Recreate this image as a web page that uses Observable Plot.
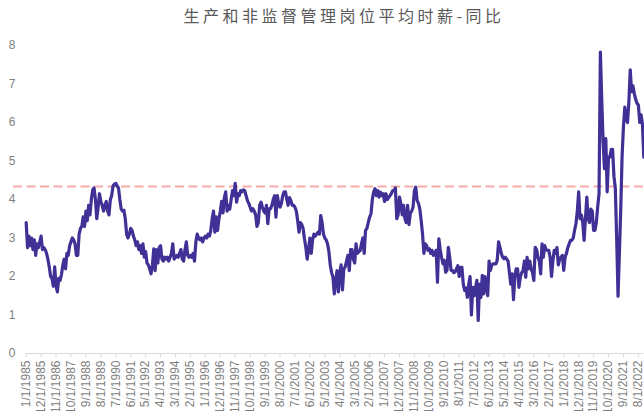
<!DOCTYPE html>
<html>
<head>
<meta charset="utf-8">
<script src="https://cdn.jsdelivr.net/npm/d3@7"></script>
<script src="https://cdn.jsdelivr.net/npm/@observablehq/plot@0.6"></script>
<style>
  html, body { margin: 0; padding: 0; background: #fff; width: 644px; height: 411px; overflow: hidden; }
  #title { height: 30px; line-height: 30px; width: 644px; text-align: center; box-sizing: border-box; padding-left: 44px;
           font-family: "Noto Sans CJK SC", sans-serif; font-size: 16px; letter-spacing: 3.5px; color: #595959; }
</style>
</head>
<body>
<div id="title">生产和非监督管理岗位平均时薪-同比</div>
<div id="chart"></div>
<script>
// Monthly YoY % values, Jan 1985 .. Dec 2022
const yoy1985_1989 = [
  3.4, 2.75, 3.05, 2.8, 3.0, 2.7, 2.95, 2.55, 2.85, 2.75, 2.9, 3.05,
  2.7, 2.75, 2.7, 2.6, 2.45, 2.25, 2.0, 1.95, 1.75, 2.25, 1.75, 1.6,
  1.95, 1.9, 2.05, 2.3, 2.45, 2.2, 2.6, 2.55, 2.8, 2.9, 3.0, 2.95,
  2.85, 2.55, 2.55, 3.1, 3.25, 3.3, 3.55, 3.3, 3.7, 3.45, 3.85, 3.6,
  4.0, 4.25, 4.3, 4.0, 3.5, 3.8, 4.15, 3.95, 3.85, 3.7, 3.85, 3.95
];
const yoy1990_1994 = [
  3.7, 3.6, 4.0, 4.1, 4.35, 4.4, 4.42, 4.35, 4.3, 4.0, 3.75, 3.7,
  3.72, 3.5, 3.1, 3.0, 3.1, 3.25, 3.2, 3.05, 2.95, 2.8, 2.9, 2.7,
  2.8, 2.6, 2.85, 2.5, 2.65, 2.35, 2.3, 2.2, 2.07, 2.3, 2.72, 2.15,
  2.7, 2.35, 2.75, 2.8, 2.45, 2.4, 2.5, 2.45, 2.5, 2.4, 2.5, 2.6,
  2.85, 2.45, 2.5, 2.55, 2.5, 2.6, 2.7, 2.45, 2.4, 2.7, 2.9, 2.55
];
const yoy1995_1999 = [
  2.5, 2.55, 2.5, 2.6, 2.4, 2.9, 3.1, 3.0, 2.95, 3.0, 2.9, 3.0,
  3.05, 3.0, 3.1, 3.05, 3.2, 3.5, 3.7, 3.15, 3.55, 3.2, 3.5, 3.7,
  3.95, 3.65, 4.05, 4.2, 3.7, 3.85, 3.75, 4.0, 4.23, 4.1, 4.42, 3.93,
  4.15, 4.1, 4.23, 4.2, 4.25, 4.23, 4.1, 3.97, 3.9, 3.8, 3.7, 3.76,
  3.7, 3.6, 3.3, 3.4, 3.85, 3.93, 3.8, 3.7, 3.65, 3.85, 3.37, 3.76
];
const yoy2000_2004 = [
  3.76, 3.85, 4.0, 4.1, 3.54, 4.1, 3.9, 3.8, 3.9, 4.1, 4.2, 4.2,
  4.0, 3.85, 4.05, 3.97, 3.85, 3.85, 3.8, 3.7, 3.45, 3.15, 3.4, 3.35,
  3.25, 2.98, 2.76, 2.45, 2.7, 3.0, 2.6, 2.95, 3.1, 3.05, 3.1, 3.15,
  3.1, 3.58, 3.4, 3.1, 3.0, 2.95, 2.85, 2.65, 2.3, 2.1, 1.98, 1.55,
  1.9, 2.15, 1.6, 2.1, 2.3, 1.65, 2.2, 2.25, 2.4, 2.55, 2.15, 2.7
];
const yoy2005_2009 = [
  2.7, 2.45, 2.35, 2.85, 2.6, 2.65, 2.67, 2.85, 3.0, 2.6, 3.2, 3.25,
  3.4, 3.54, 3.63, 4.0, 4.2, 4.28, 4.1, 4.23, 4.06, 4.19, 4.1, 4.15,
  3.95, 4.15, 4.0, 4.05, 4.1, 4.15, 4.23, 4.23, 4.3, 3.5, 3.6, 4.06,
  3.89, 3.6, 3.85, 3.5, 3.4, 3.85, 3.35, 3.65, 3.7, 3.8, 4.23, 4.32,
  3.97, 3.9, 3.75, 3.45, 3.1, 2.6, 2.85, 2.8, 2.68, 2.72, 2.6, 2.68
];
const yoy2010_2014 = [
  2.55, 2.6, 2.68, 1.85, 2.98, 2.7, 2.5, 2.33, 2.42, 2.11, 2.16, 2.76,
  2.5, 2.16, 2.16, 2.1, 2.12, 2.2, 2.28, 2.0, 2.24, 2.24, 1.8, 1.64,
  1.7, 1.46, 1.8, 2.0, 1.0, 1.72, 1.5, 1.7, 1.9, 0.86, 1.8, 1.46,
  2.03, 1.55, 2.0, 1.7, 1.5, 2.4, 2.16, 2.3, 2.33, 2.33, 2.33, 2.42,
  2.9, 2.76, 2.6, 2.5, 2.46, 2.5, 2.45, 2.4, 2.1, 1.8, 2.07, 1.4
];
const yoy2015_2019 = [
  2.0, 2.2, 2.2, 1.72, 1.98, 2.1, 2.15, 2.4, 1.98, 2.5, 2.2, 2.4,
  2.2, 2.1, 1.9, 2.76, 2.7, 2.5, 2.4, 2.07, 2.85, 2.5, 2.8, 2.7,
  2.68, 2.68, 2.5, 2.0, 2.4, 2.68, 2.6, 2.75, 2.3, 2.45, 2.5, 2.55,
  2.16, 2.5, 2.6, 2.75, 2.85, 2.94, 2.94, 3.0, 3.2, 3.37, 3.7, 4.2,
  3.5, 3.6, 3.4, 2.94, 3.5, 4.06, 3.5, 3.4, 3.75, 3.7, 3.2, 3.2
];
const yoy2020_2022 = [
  3.4, 3.8, 4.15, 7.83, 6.6, 5.5, 4.8, 5.58, 4.2, 5.1, 5.1, 5.3,
  5.3, 4.6, 4.3, 3.0, 1.49, 2.6, 3.75, 5.14, 5.9, 6.4, 6.1, 6.0,
  6.55, 7.37, 6.8, 6.95, 6.75, 6.6, 6.5, 6.45, 6.0, 6.2, 5.95, 5.1
];
const referenceLevel = 4.34;   // dashed line
const yTicks = [0, 1, 2, 3, 4, 5, 6, 7, 8];
const startYear = 1985;
const tickEvery = 11;           // category label interval (months)

const values = [].concat(yoy1985_1989, yoy1990_1994, yoy1995_1999, yoy2000_2004,
                         yoy2005_2009, yoy2010_2014, yoy2015_2019, yoy2020_2022);
const categories = values.map((_, i) => `${(i % 12) + 1}/1/${startYear + Math.floor(i / 12)}`);
const xTickLabels = categories.filter((_, i) => i % tickEvery === 0);
const data = values.map((v, i) => ({date: categories[i], v}));

const chart = Plot.plot({
  width: 644,
  height: 390,
  marginTop: 15,
  marginBottom: 67,
  marginLeft: 13,
  marginRight: 0,
  style: {fontFamily: "'Liberation Sans', Arial, sans-serif", background: "#fff"},
  x: {type: "point", domain: categories, insetLeft: 12},
  y: {domain: [0, 8]},
  marks: [
    Plot.ruleY([0], {x1: () => categories[0], x2: () => categories[categories.length - 1], stroke: "#d9d9d9", strokeWidth: 1}),
    Plot.axisX({ticks: xTickLabels, tickSize: 4, tickPadding: 3, tickRotate: -90, stroke: "#d9d9d9", fill: "#7f7f7f", fontSize: 12, label: null}),
    Plot.axisY({ticks: yTicks, tickSize: 0, tickPadding: 0, dx: 2, fill: "#7f7f7f", fontSize: 12, label: null}),
    Plot.ruleY([referenceLevel], {stroke: "#f8aaaa", strokeWidth: 2, strokeDasharray: "9,4.5"}),
    Plot.line(data, {x: "date", y: "v", stroke: "#3f3195", strokeWidth: 3.2, strokeLinejoin: "round"})
  ]
});
document.getElementById("chart").appendChild(chart);
</script>
</body>
</html>
